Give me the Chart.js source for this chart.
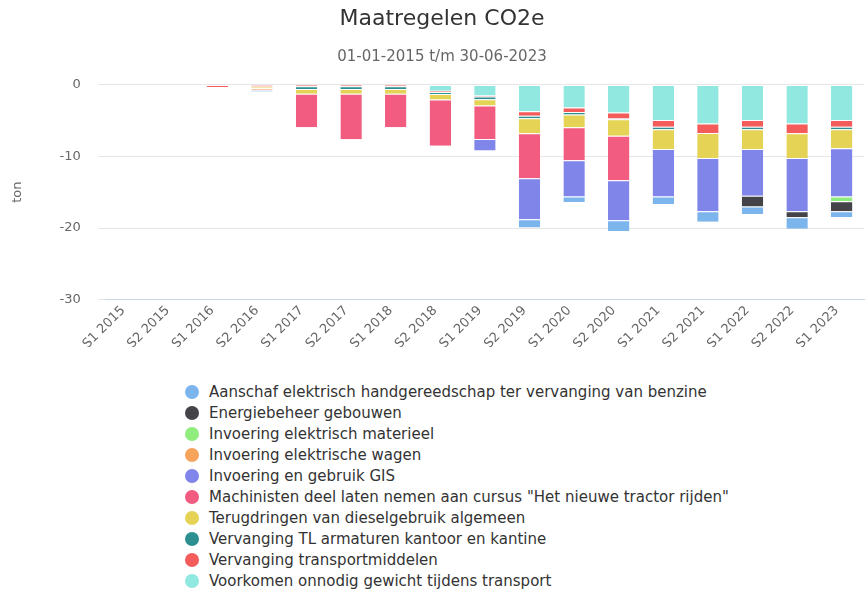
<!DOCTYPE html>
<html>
<head>
<meta charset="utf-8">
<script src="https://cdn.jsdelivr.net/npm/chart.js@4/dist/chart.umd.min.js"></script>
<style>
    body { margin: 0; background: #fff; font-family: "DejaVu Sans", sans-serif; }
    #wrap { position: relative; width: 866px; height: 591px; }
    #legend { position: absolute; left: 185px; top: 381px; }
    .item { display: flex; align-items: center; height: 21px; font-size: 15px; color: #333; white-space: nowrap; }
    .dot { width: 14px; height: 14px; border-radius: 50%; margin-right: 10px; }
</style>
</head>
<body>
<div id="wrap">
    <canvas id="chart" width="866" height="347"></canvas>
    <div id="legend"></div>
</div>
<script>
// Periods on the x axis
const periods = ["S1 2015", "S2 2015", "S1 2016", "S2 2016", "S1 2017", "S2 2017", "S1 2018", "S2 2018",
    "S1 2019", "S2 2019", "S1 2020", "S2 2020", "S1 2021", "S2 2021", "S1 2022", "S2 2022", "S1 2023"];

// Values per measure (ton CO2e)
const aanschaf     = [0, 0, 0, -0.25, 0, 0, 0, 0, 0, -1.15, -0.75, -1.5, -1.05, -1.45, -1.05, -1.6, -0.85];
const energie      = [0, 0, 0, 0, 0, 0, 0, 0, 0, 0, 0, 0, 0, 0, -1.5, -0.85, -1.4];
const materieel    = [0, 0, 0, 0, 0, 0, 0, 0, 0, 0, 0, 0, 0, 0, 0, 0, -0.65];
const wagen        = [0, 0, 0, -0.2, 0, 0, 0, 0, 0, 0, 0, 0, 0, 0, 0, 0, 0];
const gis          = [0, 0, 0, 0, 0, 0, 0, 0, -1.6, -5.7, -5.05, -5.55, -6.6, -7.4, -6.5, -7.4, -6.7];
const machinisten  = [0, 0, 0, 0, -4.65, -6.35, -4.65, -6.45, -4.65, -6.25, -4.6, -6.2, 0, 0, 0, 0, 0];
const diesel       = [0, 0, 0, -0.25, -0.65, -0.65, -0.65, -0.75, -0.9, -2.1, -1.75, -2.3, -2.75, -3.5, -2.75, -3.45, -2.65];
const tl           = [0, 0, 0, 0, -0.4, -0.4, -0.4, -0.3, -0.35, -0.35, -0.35, -0.1, -0.35, 0, -0.35, 0, -0.35];
const transport    = [0, 0, -0.35, -0.3, -0.25, -0.25, -0.25, -0.15, -0.15, -0.6, -0.65, -0.85, -0.95, -1.3, -0.95, -1.35, -0.95];
const gewicht      = [0, 0, 0, 0, 0, 0, 0, -0.9, -1.55, -3.75, -3.2, -3.9, -4.95, -5.45, -4.95, -5.45, -4.95];

const yTicks = [0, -10, -20, -30];

// legend order
const series = [
    ["Aanschaf elektrisch handgereedschap ter vervanging van benzine", aanschaf, "#7cb5ec"],
    ["Energiebeheer gebouwen", energie, "#434348"],
    ["Invoering elektrisch materieel", materieel, "#90ed7d"],
    ["Invoering elektrische wagen", wagen, "#f7a35c"],
    ["Invoering en gebruik GIS", gis, "#8085e9"],
    ["Machinisten deel laten nemen aan cursus \"Het nieuwe tractor rijden\"", machinisten, "#f15c80"],
    ["Terugdringen van dieselgebruik algemeen", diesel, "#e4d354"],
    ["Vervanging TL armaturen kantoor en kantine", tl, "#2b908f"],
    ["Vervanging transportmiddelen", transport, "#f45b5b"],
    ["Voorkomen onnodig gewicht tijdens transport", gewicht, "#91e8e1"]
];

// last series sits closest to zero, so stack in reverse
const datasets = series.slice().reverse().map(s => ({
    label: s[0],
    data: s[1].map(v => v === 0 ? null : v),
    backgroundColor: s[2],
    borderColor: "#ffffff",
    borderWidth: { top: 1, right: 0, bottom: 0, left: 0 },
    borderSkipped: false,
    categoryPercentage: 0.8,
    barPercentage: 0.6
}));

// html legend
const legendEl = document.getElementById("legend");
series.forEach(s => {
    const row = document.createElement("div");
    row.className = "item";
    const dot = document.createElement("span");
    dot.className = "dot";
    dot.style.background = s[2];
    row.appendChild(dot);
    row.appendChild(document.createTextNode(s[0]));
    legendEl.appendChild(row);
});

Chart.defaults.font.family = "'DejaVu Sans', sans-serif";

new Chart(document.getElementById("chart"), {
    type: "bar",
    data: { labels: periods, datasets: datasets },
    options: {
        responsive: false,
        animation: false,
        layout: { padding: { left: 20, right: 2, top: 0, bottom: 0 } },
        plugins: {
            legend: { display: false },
            tooltip: { enabled: false },
            title: {
                display: true,
                text: "Maatregelen CO2e",
                color: "#333333",
                font: { size: 22, weight: "normal" },
                padding: { top: 6, bottom: 8 }
            },
            subtitle: {
                display: true,
                text: "01-01-2015 t/m 30-06-2023",
                color: "#666666",
                font: { size: 15 },
                padding: { top: 8, bottom: 18 }
            }
        },
        scales: {
            x: {
                stacked: true,
                grid: { display: false },
                border: { color: "#ccd6eb" },
                ticks: { color: "#666666", font: { size: 13 }, minRotation: 45, maxRotation: 45, autoSkip: false, labelOffset: -5, padding: -5 }
            },
            y: {
                stacked: true,
                min: -30,
                max: 0,
                afterBuildTicks: axis => { axis.ticks = yTicks.map(v => ({ value: v })); },
                grid: { color: "#e6e6e6" },
                border: { display: false },
                ticks: { color: "#666666", font: { size: 13 }, padding: 17 },
                title: { display: true, text: "ton", color: "#666666", font: { size: 13 }, padding: { top: -10, bottom: 17 } }
            }
        }
    }
});
</script>
</body>
</html>
